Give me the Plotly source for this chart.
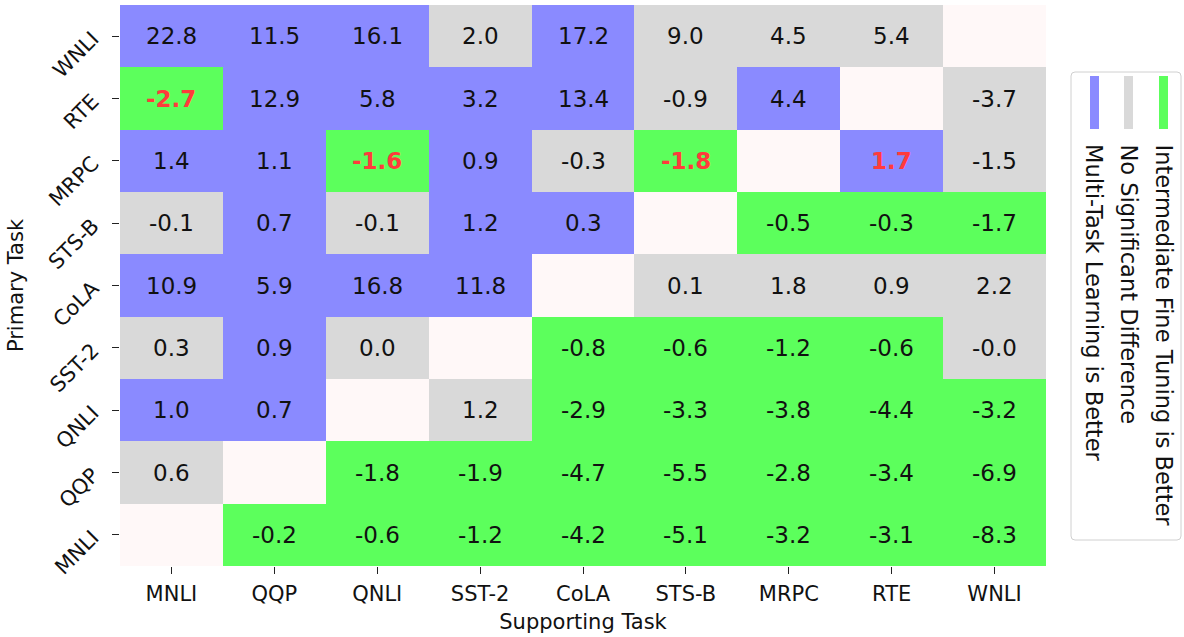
import plotly.graph_objects as go

# ---------------- data ----------------
tasks = ["MNLI", "QQP", "QNLI", "SST-2", "CoLA", "STS-B", "MRPC", "RTE", "WNLI"]

# rows = primary task (bottom -> top), columns = supporting task
values = [
    [None, -0.2, -0.6, -1.2, -4.2, -5.1, -3.2, -3.1, -8.3],   # MNLI
    [0.6, None, -1.8, -1.9, -4.7, -5.5, -2.8, -3.4, -6.9],    # QQP
    [1.0, 0.7, None, 1.2, -2.9, -3.3, -3.8, -4.4, -3.2],      # QNLI
    [0.3, 0.9, 0.0, None, -0.8, -0.6, -1.2, -0.6, -0.0],      # SST-2
    [10.9, 5.9, 16.8, 11.8, None, 0.1, 1.8, 0.9, 2.2],        # CoLA
    [-0.1, 0.7, -0.1, 1.2, 0.3, None, -0.5, -0.3, -1.7],      # STS-B
    [1.4, 1.1, -1.6, 0.9, -0.3, -1.8, None, 1.7, -1.5],       # MRPC
    [-2.7, 12.9, 5.8, 3.2, 13.4, -0.9, 4.4, None, -3.7],      # RTE
    [22.8, 11.5, 16.1, 2.0, 17.2, 9.0, 4.5, 5.4, None],       # WNLI
]

# outcome: M = multi-task better, N = no significant difference,
#          I = intermediate fine tuning better, "" = same task
outcomes = [
    ["", "I", "I", "I", "I", "I", "I", "I", "I"],
    ["N", "", "I", "I", "I", "I", "I", "I", "I"],
    ["M", "M", "", "N", "I", "I", "I", "I", "I"],
    ["N", "M", "N", "", "I", "I", "I", "I", "N"],
    ["M", "M", "M", "M", "", "N", "N", "N", "N"],
    ["N", "M", "N", "M", "M", "", "I", "I", "I"],
    ["M", "M", "I", "M", "N", "I", "", "M", "N"],
    ["I", "M", "M", "M", "M", "N", "M", "", "N"],
    ["M", "M", "M", "N", "M", "N", "N", "N", ""],
]

# (primary, supporting) cells highlighted in red
highlighted = [("RTE", "MNLI"), ("MRPC", "QNLI"), ("MRPC", "STS-B"), ("MRPC", "RTE")]

legend_labels = ["Multi-Task Learning is Better", "No Significant Difference",
                 "Intermediate Fine Tuning is Better"]
legend_keys = ["M", "N", "I"]

# ---------------- style ----------------
FONT = "DejaVu Sans"
COLORS = {"": "#FFF8F8", "M": "#8A8AFF", "N": "#D9D9D9", "I": "#5CFF5C"}
code_of = {"": 0, "M": 1, "N": 2, "I": 3}
order = ["", "M", "N", "I"]
colorscale = []
for k, key in enumerate(order):
    colorscale.append([k / 4, COLORS[key]])
    colorscale.append([(k + 1) / 4, COLORS[key]])

W, H = 1184, 637
L, R, T, B = 120, 138, 5, 71
PW, PH = W - L - R, H - T - B


def px(xp):
    return (xp - L) / PW


def py(yp):
    return (H - B - yp) / PH


z = [[code_of[o] for o in row] for row in outcomes]

fig = go.Figure(go.Heatmap(
    x=tasks, y=tasks, z=z, zmin=-0.5, zmax=3.5,
    colorscale=colorscale, showscale=False, hoverinfo="skip",
))

annotations = []
for i, prim in enumerate(tasks):
    for j, sup in enumerate(tasks):
        v = values[i][j]
        if v is None:
            continue
        hi = (prim, sup) in highlighted
        annotations.append(dict(
            x=sup, y=prim, xref="x", yref="y", text=f"<b>{v:.1f}</b>" if hi else f"{v:.1f}",
            showarrow=False,
            font=dict(family=FONT, size=23, color="#FF3B3B" if hi else "#111111"),
        ))

# legend (rotated, drawn manually)
shapes = []
bx0, bx1, by0, by1, r = 1071, 1181, 72, 540, 4
path = (f"M {px(bx0 + r)} {py(by0)} L {px(bx1 - r)} {py(by0)} "
        f"Q {px(bx1)} {py(by0)} {px(bx1)} {py(by0 + r)} L {px(bx1)} {py(by1 - r)} "
        f"Q {px(bx1)} {py(by1)} {px(bx1 - r)} {py(by1)} L {px(bx0 + r)} {py(by1)} "
        f"Q {px(bx0)} {py(by1)} {px(bx0)} {py(by1 - r)} L {px(bx0)} {py(by0 + r)} "
        f"Q {px(bx0)} {py(by0)} {px(bx0 + r)} {py(by0)} Z")
shapes.append(dict(type="path", xref="paper", yref="paper", path=path,
                   fillcolor="white", line=dict(color="#D0D0D0", width=1)))
centers = [1094.5, 1128.5, 1163.5]
for cx, key, lab in zip(centers, legend_keys, legend_labels):
    shapes.append(dict(type="line", xref="paper", yref="paper",
                       x0=px(cx), x1=px(cx), y0=py(76), y1=py(129),
                       line=dict(color=COLORS[key], width=9)))
    annotations.append(dict(
        x=px(cx), y=py(142), xref="paper", yref="paper", text=lab, textangle=90,
        xanchor="center", yanchor="top", showarrow=False,
        font=dict(family=FONT, size=22.5, color="#111111"),
    ))

fig.update_layout(
    width=W, height=H,
    margin=dict(l=L, r=R, t=T, b=B),
    paper_bgcolor="white", plot_bgcolor="white",
    font=dict(family=FONT, size=22, color="#111111"),
    xaxis=dict(
        type="category", categoryorder="array", categoryarray=tasks,
        title=dict(text="Supporting Task", font=dict(size=21), standoff=9),
        ticks="outside", ticklen=7, tickwidth=1, tickcolor="#222222",
        showgrid=False, zeroline=False, showline=False,
        tickfont=dict(size=21), ticklabelstandoff=2,
    ),
    yaxis=dict(
        type="category", categoryorder="array", categoryarray=tasks,
        title=dict(text="Primary Task", font=dict(size=21), standoff=14),
        ticks="outside", ticklen=7, tickwidth=1, tickcolor="#222222",
        showgrid=False, zeroline=False, showline=False,
        tickfont=dict(size=21), tickangle=-45, ticklabelstandoff=15,
    ),
    annotations=annotations,
    shapes=shapes,
)

fig.write_html("out.html", config={"displayModeBar": False},
               post_script="document.body.style.margin='0px';")
